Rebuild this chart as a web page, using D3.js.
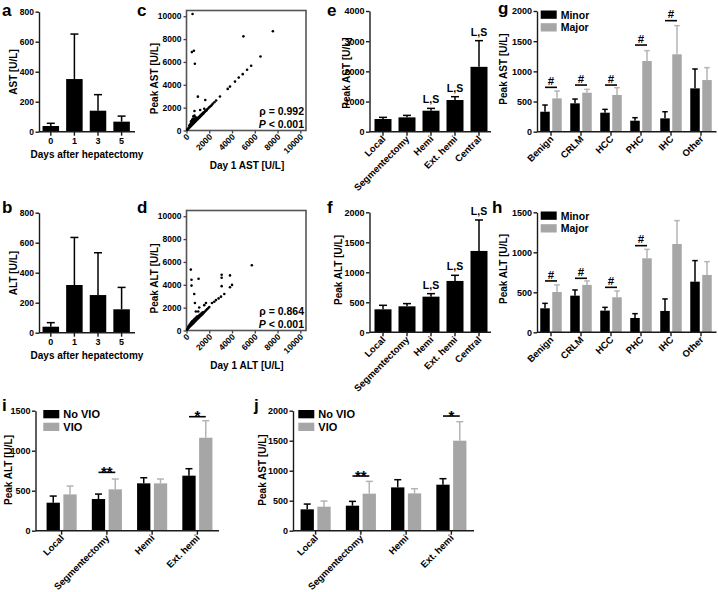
<!DOCTYPE html>
<html><head><meta charset="utf-8">
<script src="https://cdn.jsdelivr.net/npm/d3@7"></script>
<style>
body{margin:0;background:#fff;}
svg{display:block;}
</style></head><body>
<svg id="fig" width="718" height="592"></svg>
<script>
// ---------------- DATA ----------------
const dayCats = ["0","1","3","5"];
const astDayMean = [38,351,140,67];
const astDayErr  = [56,651,247,104];
const altDayMean = [40,318,251,156];
const altDayErr  = [67,635,533,302];
const dayTicks = [0,200,400,600,800];

const scatTicks = [0,2000,4000,6000,8000,10000];
const astPairs = [
 [530,10200],[470,6860],[650,6980],[735,5840],[5000,8240],[7590,8680],[6500,6480],[5680,5660],
 [5320,5310],[4940,4930],[4590,4630],[4260,4280],[3820,3840],[3620,3640],[2940,2980],[1000,2960],
 [1650,2670],[700,1700],[1200,1800],[1560,1900],[1600,1640],
 [2600,2620],[2450,2470],[2300,2330],[2200,2210],[2100,2120],[2000,2030],[1900,1920],[1800,1830],
 [1750,1760],[1700,1720],[1650,1680],[1550,1580],[1500,1520],[1450,1460],[1400,1430],[1350,1370],
 [1300,1310],[1250,1270],[1200,1230],[1150,1160],[1100,1120],[1050,1080],[1000,1010],[950,980],
 [900,920],[850,870],[800,810],[750,770],[700,720],[650,660],[600,620],[550,560],[500,520],
 [450,460],[400,420],[350,360],[300,310],[250,260],[200,210],[150,160],[100,110],[60,70],
 [300,500],[400,650],[500,800],[600,900],[700,1000],[800,1050],[900,1100],[500,950],[600,1050],
 [400,800],[350,550],[250,420],[450,700],[550,750],[650,850],[750,950],[850,1000],[950,1060],
 [1050,1150],[1150,1250],[1250,1350],[1350,1450],[1450,1550],[700,1300],[800,1150],[600,1250]
];
const altPairs = [
 [380,5330],[440,4440],[1060,4530],[440,3930],[680,3200],[740,2400],[3090,4880],[3090,4620],
 [3820,4820],[3090,3880],[4000,3990],[3820,3790],[5740,5710],[1560,2220],[1710,2400],[820,1660],
 [1030,1660],[1120,2010],
 [3320,3200],[3030,2960],[2820,2810],[2590,2660],[2440,2510],[2240,2400],
 [2000,2050],[1900,1950],[1800,1850],[1700,1740],[1600,1640],[1500,1540],[1400,1430],[1300,1330],
 [1200,1240],[1100,1130],[1000,1040],[900,940],[800,840],[700,740],[600,640],[500,540],[400,440],
 [300,340],[200,240],[100,140],[50,80],
 [200,400],[300,550],[400,700],[500,800],[600,900],[700,1000],[800,1100],[900,1200],[1000,1250],
 [300,450],[150,300],[400,550],[500,650],[600,750],[700,850],[800,950],[1100,1300],[1200,1400],
 [1300,1480],[1400,1560],[1500,1600],[1000,1150]
];
const astRho = "0.992";
const altRho = "0.864";

const resCats = ["Local","Segmentectomy","Hemi","Ext. hemi","Central"];
const resAstMean = [420,475,696,1050,2150];
const resAstErr  = [475,541,773,1160,3017];
const resAltMean = [383,433,594,856,1356];
const resAltErr  = [450,478,644,950,1872];
const resMarks = ["","","L,S","L,S","L,S"];
const resAstTicks = [0,1000,2000,3000,4000];
const resAltTicks = [0,500,1000,1500,2000];

const diagCats = ["Benign","CRLM","HCC","PHC","IHC","Other"];
const sizeGroups = ["Minor","Major"];
const diagAstMinor    = [331,470,315,182,221,718];
const diagAstMinorErr = [442,541,370,232,331,1039];
const diagAstMajor    = [552,646,608,1171,1282,856];
const diagAstMajorErr = [674,702,729,1343,1757,1061];
const diagAstSig      = [735,773,773,1436,1840,null];
const diagAltMinor    = [300,458,271,179,267,633];
const diagAltMinorErr = [362,529,312,233,417,896];
const diagAltMajor    = [504,592,438,925,1104,717];
const diagAltMajorErr = [592,642,517,1037,1396,883];
const diagAltSig      = [642,675,562,1083,null,null];
const diagSigText = ["#","#","#","#","#","#"];
const diagAstTicks = [0,500,1000,1500,2000];
const diagAltTicks = [0,500,1000,1500];

const vioCats = ["Local","Segmentectomy","Hemi","Ext. hemi"];
const vioGroups = ["No VIO","VIO"];
const vioAltNo     = [350,396,592,688];
const vioAltNoErr  = [433,458,662,775];
const vioAltYes    = [454,517,592,1162];
const vioAltYesErr = [558,646,646,1375];
const vioAltSig    = [null,729,null,1425];
const vioAstNo     = [356,417,722,767];
const vioAstNoErr  = [444,489,850,867];
const vioAstYes    = [400,617,622,1500];
const vioAstYesErr = [494,822,700,1817];
const vioAstSig    = [null,911,null,1911];
const vioSigText = ["","**","","*"];
const vioAltTicks = [0,500,1000,1500];
const vioAstTicks = [0,500,1000,1500,2000];

// ---------------- DRAWING ----------------
const FONT = "'Liberation Sans', Arial, Helvetica, sans-serif";
const AX = "#1a1a1a";
const GRAY = "#a6a6a6";
const GRAY_ERR = "#b4b4b4";
const svg = d3.select("#fig").attr("font-family", FONT).attr("font-weight","bold");

function txt(g, x, y, s, size, anchor){
  return g.append("text").attr("x",x).attr("y",y).text(s)
    .attr("font-size",size).attr("font-weight","bold").attr("fill","#000")
    .attr("text-anchor",anchor||"start");
}
function vLabel(g, x, y, s, size){
  g.append("text").attr("transform",`translate(${x},${y}) rotate(-90)`)
   .attr("text-anchor","middle").attr("font-size",size).attr("font-weight","bold").text(s);
}
function drawYAxis(g, y, x, ticks, size){
  const ax = d3.axisLeft(y).tickValues(ticks).tickSize(3.5).tickSizeOuter(0).tickPadding(1.5).tickFormat(d3.format("d"));
  const s = g.append("g").attr("transform",`translate(${x},0)`).call(ax)
    .attr("font-family",FONT).attr("font-size",size).attr("font-weight","bold");
  s.select(".domain").attr("stroke",AX).attr("stroke-width",1.4);
  s.selectAll(".tick line").attr("stroke",AX).attr("stroke-width",1.4);
  s.selectAll(".tick text").attr("fill","#000");
  return s;
}
function drawXAxis(g, centerOf, cats, y0, xStart, xEnd, rotate, size){
  g.append("line").attr("x1",xStart).attr("x2",xEnd).attr("y1",y0).attr("y2",y0)
    .attr("stroke",AX).attr("stroke-width",1.4);
  const tk = g.selectAll(null).data(cats).join("g").attr("transform",d=>`translate(${centerOf(d)},${y0})`);
  tk.append("line").attr("y1",0).attr("y2",4).attr("stroke",AX).attr("stroke-width",1.4);
  if(rotate){
    tk.append("text").attr("text-anchor","end").attr("font-size",size).attr("font-weight","bold")
      .attr("transform","translate(3,8) rotate(-45)").text(d=>d);
  } else {
    tk.append("text").attr("text-anchor","middle").attr("font-size",size).attr("font-weight","bold")
      .attr("y",12).text(d=>d);
  }
}
function errBars(g, items, color, capW){
  items.forEach(it=>{
    g.append("line").attr("x1",it.cx).attr("x2",it.cx).attr("y1",it.y0).attr("y2",it.y1)
      .attr("stroke",color).attr("stroke-width",1.5);
    g.append("line").attr("x1",it.cx-capW/2).attr("x2",it.cx+capW/2).attr("y1",it.y1).attr("y2",it.y1)
      .attr("stroke",color).attr("stroke-width",1.5);
  });
}

function singleBarChart(o){
  const g = svg.append("g");
  const y = d3.scaleLinear().domain([0,o.yMax]).range([o.yBase,o.yTop]);
  const x = d3.scaleBand().domain(o.cats).range(o.band);
  const cx = d => x(d)+x.bandwidth()/2;
  const data = o.cats.map((c,i)=>({c, m:o.mean[i], e:o.err[i], mark:o.marks?o.marks[i]:""}));
  errBars(g, data.map(d=>({cx:cx(d.c), y0:y(d.m), y1:y(d.e)})), "#000", o.capW);
  g.selectAll(null).data(data).join("rect")
    .attr("x",d=>cx(d.c)-o.barW/2).attr("width",o.barW)
    .attr("y",d=>y(d.m)).attr("height",d=>o.yBase-y(d.m)).attr("fill","#000");
  if(o.marks){
    data.filter(d=>d.mark).forEach(d=>txt(g, cx(d.c), y(d.e)-5, d.mark, 10.5, "middle"));
  }
  drawYAxis(g, y, o.axisX, o.ticks, o.tickSize);
  drawXAxis(g, cx, o.cats, o.yBase, o.axisX, o.axisEnd, o.rotate, o.catSize);
  vLabel(g, o.yLabX, o.yLabY, o.yLabel, 10);
  if(o.xLabel) txt(g, o.xLabX, o.xLabY, o.xLabel, 10, "middle");
}

function groupedChart(o){
  const g = svg.append("g");
  const y = d3.scaleLinear().domain([0,o.yMax]).range([o.yBase,o.yTop]);
  const x = d3.scaleBand().domain(o.cats).range(o.band);
  const cx = d => x(d)+x.bandwidth()/2;
  const off = o.barW/2 + o.gap/2;
  const series = [
    {vals:o.a, errs:o.aErr, dx:-off, fill:"#000", ec:"#000"},
    {vals:o.b, errs:o.bErr, dx: off, fill:GRAY, ec:GRAY_ERR}
  ];
  series.forEach(s=>{
    const data = o.cats.map((c,i)=>({c, m:s.vals[i], e:s.errs[i]}));
    errBars(g, data.map(d=>({cx:cx(d.c)+s.dx, y0:y(d.m), y1:y(d.e)})), s.ec, o.capW);
    g.selectAll(null).data(data).join("rect")
      .attr("x",d=>cx(d.c)+s.dx-o.barW/2).attr("width",o.barW)
      .attr("y",d=>y(d.m)).attr("height",d=>o.yBase-y(d.m)).attr("fill",s.fill);
  });
  o.cats.forEach((c,i)=>{
    const lv = o.sig[i];
    if(lv==null) return;
    const yy = y(lv);
    g.append("line").attr("x1",cx(c)-off).attr("x2",cx(c)+off).attr("y1",yy).attr("y2",yy)
      .attr("stroke","#000").attr("stroke-width",1.6);
    const s = o.sigText[i];
    if(s==="#") txt(g, cx(c), yy-2.2, s, 11.5, "middle");
    else txt(g, cx(c), yy+4.5, s, 15, "middle");
  });
  drawYAxis(g, y, o.axisX, o.ticks, o.tickSize);
  drawXAxis(g, cx, o.cats, o.yBase, o.axisX, o.axisEnd, true, o.catSize);
  vLabel(g, o.yLabX, o.yLabY, o.yLabel, 10);
  o.groups.forEach((name,i)=>{
    const ly = o.legY + i*12.7;
    g.append("rect").attr("x",o.legX).attr("y",ly).attr("width",16).attr("height",8.3)
      .attr("fill", i===0?"#000":GRAY);
    txt(g, o.legX+20, ly+8, name, o.legSize, "start");
  });
}

function scatterPanel(o){
  const g = svg.append("g");
  const x = d3.scaleLinear().domain([0,10500]).range([186.5,306]);
  const y = d3.scaleLinear().domain([0,10500]).range([o.yBase,o.yBase-120]);
  g.append("rect").attr("x",186.5).attr("y",o.yBase-120).attr("width",306-186.5).attr("height",120)
    .attr("fill","none").attr("stroke","#555").attr("stroke-width",1.6);
  const ya = d3.axisLeft(y).tickValues(scatTicks).tickSize(3).tickSizeOuter(0).tickPadding(2).tickFormat(d3.format("d"));
  const sy = g.append("g").attr("transform","translate(186.5,0)").call(ya)
    .attr("font-family",FONT).attr("font-size",8.5).attr("font-weight","bold");
  sy.select(".domain").remove();
  sy.selectAll(".tick line").attr("stroke","#444").attr("stroke-width",1.3);
  sy.selectAll(".tick text").attr("fill","#000");
  const xa = d3.axisBottom(x).tickValues(scatTicks).tickSize(3).tickSizeOuter(0).tickFormat(d3.format("d"));
  const sx = g.append("g").attr("transform",`translate(0,${o.yBase})`).call(xa)
    .attr("font-family",FONT).attr("font-size",8.5).attr("font-weight","bold");
  sx.select(".domain").remove();
  sx.selectAll(".tick line").attr("stroke","#444").attr("stroke-width",1.3);
  sx.selectAll(".tick text").attr("fill","#000").attr("x",0).attr("y",0).attr("dy",0)
    .attr("text-anchor","end").attr("transform","translate(3,7) rotate(-45)");
  g.selectAll(null).data(o.pts).join("circle")
    .attr("cx",d=>x(d[0])).attr("cy",d=>y(d[1])).attr("r",1.3).attr("fill","#000");
  txt(g, 304, o.yBase-16, "\u03c1 = "+o.rho, 10.5, "end");
  const t = g.append("text").attr("x",304).attr("y",o.yBase-2.5).attr("text-anchor","end")
    .attr("font-size",10.5).attr("font-weight","bold");
  t.append("tspan").attr("font-style","italic").text("P");
  t.append("tspan").text(" < 0.001");
  vLabel(g, 158, o.yBase-52, o.yLabel, 10);
  txt(g, 247, o.yBase+38.5, o.xLabel, 10, "middle");
}

// Panels a, b
singleBarChart({cats:dayCats, mean:astDayMean, err:astDayErr, yMax:800, ticks:dayTicks, tickSize:8.5,
  yBase:131.7, yTop:11.7, band:[39,133.4], axisX:39, axisEnd:135, barW:16.5, capW:8,
  rotate:false, catSize:9, yLabel:"AST [U/L]", yLabX:17, yLabY:72,
  xLabel:"Days after hepatectomy", xLabX:87, xLabY:158});
singleBarChart({cats:dayCats, mean:altDayMean, err:altDayErr, yMax:800, ticks:dayTicks, tickSize:8.5,
  yBase:332.7, yTop:212.7, band:[39,133.4], axisX:39, axisEnd:135, barW:16.5, capW:8,
  rotate:false, catSize:9, yLabel:"ALT [U/L]", yLabX:17, yLabY:273,
  xLabel:"Days after hepatectomy", xLabX:87, xLabY:359});

// Panels c, d
scatterPanel({pts:astPairs, yBase:130.5, rho:astRho, yLabel:"Peak AST [U/L]", xLabel:"Day 1 AST [U/L]"});
scatterPanel({pts:altPairs, yBase:330.5, rho:altRho, yLabel:"Peak ALT [U/L]", xLabel:"Day 1 ALT [U/L]"});

// Panels e, f
singleBarChart({cats:resCats, mean:resAstMean, err:resAstErr, marks:resMarks, yMax:4000, ticks:resAstTicks, tickSize:9,
  yBase:131.7, yTop:11, band:[371,491], axisX:369.5, axisEnd:491, barW:17, capW:8,
  rotate:true, catSize:9.5, yLabel:"Peak AST [U/L]", yLabX:350, yLabY:73});
singleBarChart({cats:resCats, mean:resAltMean, err:resAltErr, marks:resMarks, yMax:2000, ticks:resAltTicks, tickSize:9,
  yBase:332.3, yTop:212.3, band:[371,491], axisX:369.5, axisEnd:491, barW:17, capW:8,
  rotate:true, catSize:9.5, yLabel:"Peak  ALT [U/L]", yLabX:342, yLabY:270});

// Panels g, h
groupedChart({cats:diagCats, groups:sizeGroups, a:diagAstMinor, aErr:diagAstMinorErr, b:diagAstMajor, bErr:diagAstMajorErr,
  sig:diagAstSig, sigText:diagSigText, yMax:2000, ticks:diagAstTicks, tickSize:9, yBase:131.7, yTop:11,
  band:[536,716], axisX:537, axisEnd:716.5, barW:9.5, gap:2.5, capW:5.5, catSize:9.5,
  yLabel:"Peak AST [U/L]", yLabX:507, yLabY:69, legX:540.7, legY:10.5, legSize:10.5});
groupedChart({cats:diagCats, groups:sizeGroups, a:diagAltMinor, aErr:diagAltMinorErr, b:diagAltMajor, bErr:diagAltMajorErr,
  sig:diagAltSig, sigText:diagSigText, yMax:1500, ticks:diagAltTicks, tickSize:9, yBase:332.3, yTop:212.3,
  band:[536,716], axisX:537, axisEnd:716.5, barW:9.5, gap:2.5, capW:5.5, catSize:9.5,
  yLabel:"Peak ALT [U/L]", yLabX:507, yLabY:269, legX:540.7, legY:211.5, legSize:10.5});

// Panels i, j
groupedChart({cats:vioCats, groups:vioGroups, a:vioAltNo, aErr:vioAltNoErr, b:vioAltYes, bErr:vioAltYesErr,
  sig:vioAltSig, sigText:vioSigText, yMax:1500, ticks:vioAltTicks, tickSize:9, yBase:530.7, yTop:410.7,
  band:[39,220], axisX:35.5, axisEnd:219, barW:13.3, gap:3.5, capW:7, catSize:9.5,
  yLabel:"Peak  ALT [U/L]", yLabX:11.5, yLabY:470, legX:43.3, legY:410, legSize:11});
groupedChart({cats:vioCats, groups:vioGroups, a:vioAstNo, aErr:vioAstNoErr, b:vioAstYes, bErr:vioAstYesErr,
  sig:vioAstSig, sigText:vioSigText, yMax:2000, ticks:vioAstTicks, tickSize:9, yBase:530.7, yTop:410.7,
  band:[293,474], axisX:293, axisEnd:474, barW:13.3, gap:3.5, capW:7, catSize:9.5,
  yLabel:"Peak AST [U/L]", yLabX:266, yLabY:470, legX:298.3, legY:410, legSize:11});

// Panel letters
const letters = [["a",2,16],["c",137,16],["e",327,16],["g",498,14],
                 ["b",2,213],["d",137,213],["f",327,213],["h",492,213],
                 ["i",2,411],["j",254,411]];
letters.forEach(l=>txt(svg, l[1], l[2], l[0], 17, "start"));
</script>
</body></html>
